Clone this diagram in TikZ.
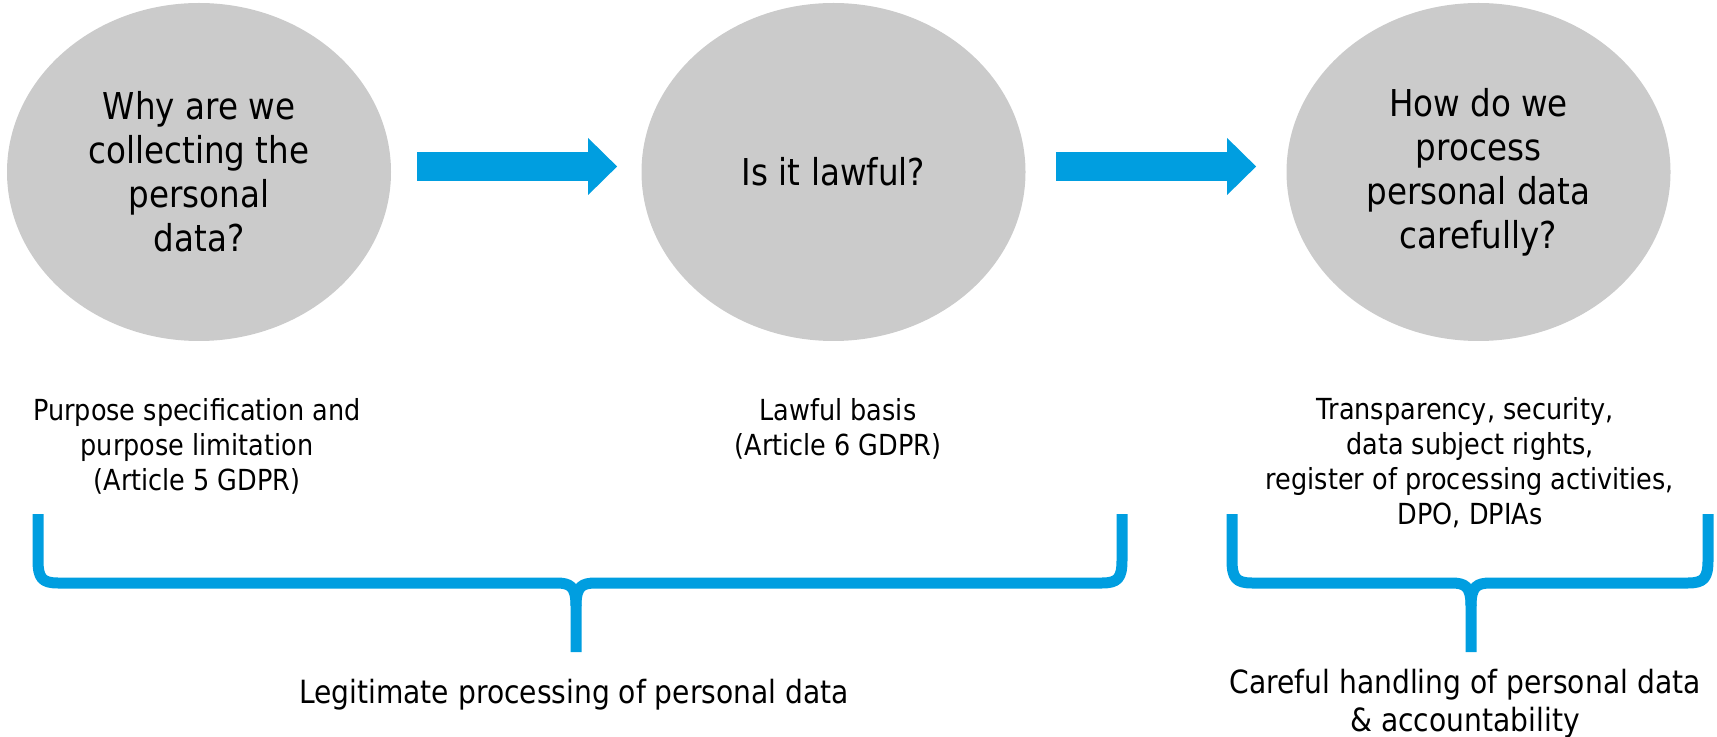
\documentclass[tikz,border=0pt]{standalone}
\usepackage{fontspec}
\setmainfont{DejaVu Sans}[FakeStretch=0.88]
\usetikzlibrary{shapes.geometric,arrows.meta}
\definecolor{discgray}{RGB}{203,203,203}
\definecolor{gdprblue}{RGB}{0,158,224}

\begin{document}
\begin{tikzpicture}[x=0.5pt,y=-0.5pt,
  disc/.style={ellipse, fill=discgray, minimum width=192pt, minimum height=169pt,
    inner sep=0pt, align=center, font=\fontsize{18.5pt}{22pt}\selectfont},
  caption/.style={align=center, inner sep=0pt, font=\fontsize{14.5pt}{17.5pt}\selectfont},
  summary/.style={align=center, inner sep=0pt, font=\fontsize{16pt}{19pt}\selectfont},
  flow/.style={draw=gdprblue, line width=14.5pt,
    -{Triangle[length=14.5pt,width=28.5pt,line width=0pt]}},
  bracket/.style={draw=gdprblue, line width=5.5pt, line join=round}
]
\useasboundingbox (0,0) rectangle (1717,737);

% the three questions
\node[disc] (why)    at (199,172)    {Why are we\\collecting the\\personal\\data?};
\node[disc] (lawful) at (833.5,172)  {Is it lawful?};
\node[disc] (how)    at (1478.5,172) {How do we\\process\\personal data\\carefully?};

% block arrows between the questions
\draw[flow] ([xshift=13pt,yshift=2.75pt]why.east) -- ([xshift=-12pt,yshift=2.75pt]lawful.west);
\draw[flow] ([xshift=15pt,yshift=2.75pt]lawful.east) -- ([xshift=-15pt,yshift=2.75pt]how.west);

% principles under each question
\node[caption] (purpose) at (197,446) {Purpose specification and\\purpose limitation\\(Article 5 GDPR)};
\node[caption] (basis)   at (838,429) {Lawful basis\\(Article 6 GDPR)};
\node[caption] (duties)  at (1470,463) {Transparency, security,\hspace*{5pt}\\data subject rights,\\register of processing activities,\\DPO, DPIAs};

% left brace
\draw[bracket] (38,514) -- (38,560) .. controls (38,578) and (42,583) .. (58,583)
  -- (556,583) .. controls (570,583) and (576,586) .. (576,606) -- (576,652);
\draw[bracket] (576,606) .. controls (576,586) and (582,583) .. (596,583)
  -- (1102,583) .. controls (1118,583) and (1122,578) .. (1122,560) -- (1122,514);

% right brace
\draw[bracket] (1232,514) -- (1232,560) .. controls (1232,578) and (1236,583) .. (1252,583)
  -- (1451,583) .. controls (1465,583) and (1471,586) .. (1471,606) -- (1471,652);
\draw[bracket] (1471,606) .. controls (1471,586) and (1477,583) .. (1491,583)
  -- (1688,583) .. controls (1704,583) and (1708,578) .. (1708,560) -- (1708,514);

% summaries below the braces
\node[summary, anchor=base] (legit) at (574,703) {Legitimate processing of personal data};
\node[summary] (careful) at (1465,704) {Careful handling of personal data\\\& accountability};
\end{tikzpicture}
\end{document}
